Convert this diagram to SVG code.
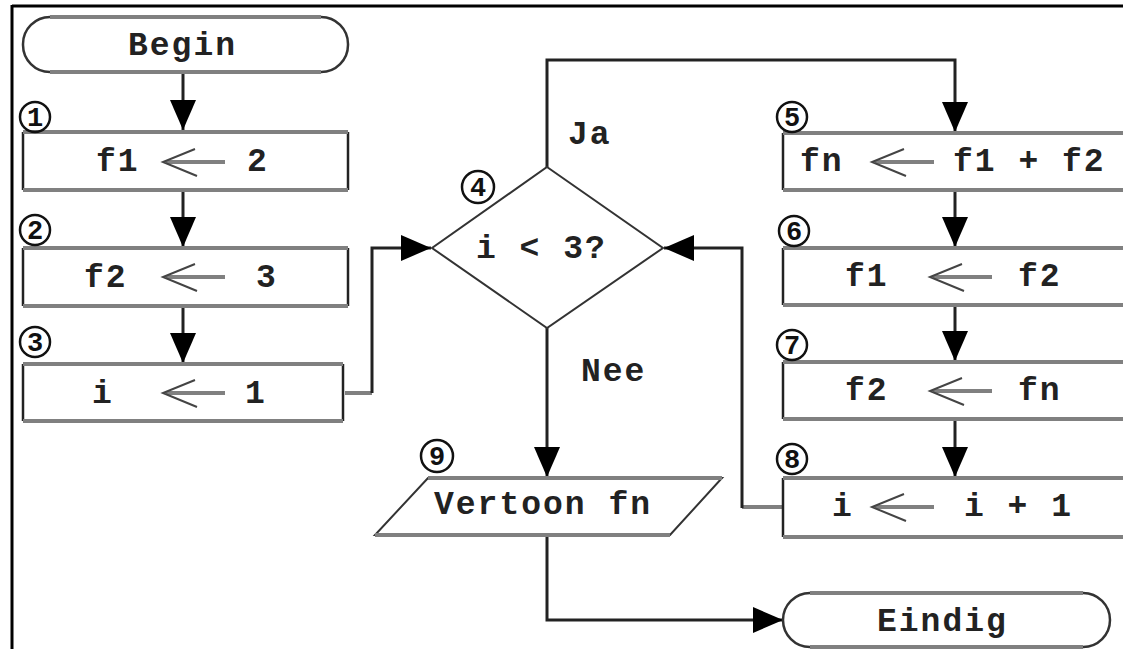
<svg xmlns="http://www.w3.org/2000/svg" width="1123" height="649" viewBox="0 0 1123 649">
<style>
.t{font-family:"Liberation Mono","Courier New",monospace;font-size:33px;font-weight:bold;fill:#222;letter-spacing:2px}
.n{font-family:"Liberation Mono","Courier New",monospace;font-size:27px;font-weight:bold;fill:#111;text-anchor:middle}
.c{fill:none;stroke:#111;stroke-width:2.5}
.side{stroke:#222;stroke-width:2.5;fill:none}
.tb{stroke:#808080;stroke-width:4;fill:none}
.box{fill:#fff;stroke:none}
.con{fill:none;stroke:#222;stroke-width:3}
.cong{fill:none;stroke:#808080;stroke-width:4}
.shaft{stroke:#808080;stroke-width:4}
.barb{stroke:#444;stroke-width:2;fill:none}
</style>
<defs>
<marker id="ah" markerUnits="userSpaceOnUse" markerWidth="32" markerHeight="26" refX="30" refY="13" orient="auto">
<path d="M0,0 L30,13 L0,26 z" fill="#000"/>
</marker>
<g id="larr">
<line class="shaft" x1="3" y1="0" x2="62" y2="0"/>
<path class="barb" d="M32,-13 L0,0 L34,14"/>
</g>
</defs>
<rect width="1123" height="649" fill="#fff"/>
<g id="frame">
<line x1="12" y1="6" x2="1123" y2="6" stroke="#000" stroke-width="3"/>
<line x1="12" y1="5" x2="12" y2="649" stroke="#000" stroke-width="3"/>
</g>
<g id="connectors">
<line class="con" x1="183" y1="72" x2="183" y2="130" marker-end="url(#ah)"/>
<line class="con" x1="183" y1="190" x2="183" y2="247" marker-end="url(#ah)"/>
<line class="con" x1="183" y1="306" x2="183" y2="363" marker-end="url(#ah)"/>
<path class="cong" d="M345,393 L372,393"/>
<path class="con" d="M372,393 L372,248 L431,248" marker-end="url(#ah)"/>
<path class="con" d="M547,167 L547,60 L955,60 L955,132" marker-end="url(#ah)"/>
<line class="con" x1="955" y1="190" x2="955" y2="247" marker-end="url(#ah)"/>
<line class="con" x1="955" y1="305" x2="955" y2="361" marker-end="url(#ah)"/>
<line class="con" x1="955" y1="419" x2="955" y2="477" marker-end="url(#ah)"/>
<path class="cong" d="M783,507 L742,507"/>
<path class="con" d="M742,508 L742,248 L664,248" marker-end="url(#ah)"/>
<line class="con" x1="547" y1="328" x2="547" y2="477" marker-end="url(#ah)"/>
<path class="con" d="M547,535 L547,620 L783,620" marker-end="url(#ah)"/>
<text class="t" x="568" y="144">Ja</text>
<text class="t" x="581" y="381">Nee</text>
</g>
<g id="begin">
<rect x="23" y="17" width="325" height="55" rx="27" fill="#fff" stroke="#333" stroke-width="2.5"/>
<line class="tb" x1="50" y1="17" x2="321" y2="17" stroke-width="3"/>
<line class="tb" x1="50" y1="72" x2="321" y2="72" stroke-width="3"/>
<text class="t" x="128" y="55">Begin</text>
</g>
<g id="n1">
<rect class="box" x="23" y="132" width="325" height="58"/>
<line class="side" x1="23" y1="132" x2="23" y2="190"/><line class="side" x1="348" y1="132" x2="348" y2="190"/>
<line class="tb" x1="23" y1="132" x2="348" y2="132"/><line class="tb" x1="23" y1="190" x2="348" y2="190"/>
<text class="t" x="96" y="171">f1</text>
<use href="#larr" x="163" y="162"/>
<text class="t" x="247" y="171">2</text>
<circle class="c" cx="35" cy="117" r="15"/><text class="n" x="35" y="126">1</text>
</g>
<g id="n2">
<rect class="box" x="23" y="248" width="325" height="58"/>
<line class="side" x1="23" y1="248" x2="23" y2="306"/><line class="side" x1="348" y1="248" x2="348" y2="306"/>
<line class="tb" x1="23" y1="248" x2="348" y2="248"/><line class="tb" x1="23" y1="306" x2="348" y2="306"/>
<text class="t" x="84" y="287">f2</text>
<use href="#larr" x="163" y="277"/>
<text class="t" x="256" y="287">3</text>
<circle class="c" cx="35" cy="230" r="15"/><text class="n" x="35" y="239">2</text>
</g>
<g id="n3">
<rect class="box" x="23" y="364" width="320" height="57"/>
<line class="side" x1="23" y1="364" x2="23" y2="421"/><line class="side" x1="343" y1="364" x2="343" y2="421"/>
<line class="tb" x1="23" y1="364" x2="343" y2="364"/><line class="tb" x1="23" y1="421" x2="343" y2="421"/>
<text class="t" x="92" y="403">i</text>
<use href="#larr" x="163" y="393"/>
<text class="t" x="245" y="403">1</text>
<circle class="c" cx="35" cy="342" r="15"/><text class="n" x="35" y="351">3</text>
</g>
<g id="n4">
<path d="M547,167 L663,248 L547,328 L432,248 z" fill="#fff" stroke="#333" stroke-width="2"/>
<text class="t" x="476" y="258">i &lt; 3?</text>
<circle class="c" cx="478" cy="187" r="16"/><text class="n" x="478" y="196">4</text>
</g>
<g id="n5">
<rect class="box" x="783" y="133" width="350" height="57"/>
<line class="side" x1="783" y1="133" x2="783" y2="190"/>
<line class="tb" x1="783" y1="133" x2="1123" y2="133"/><line class="tb" x1="783" y1="190" x2="1123" y2="190"/>
<text class="t" x="800" y="171">fn</text>
<use href="#larr" x="872" y="162"/>
<text class="t" x="953" y="171">f1 + f2</text>
<circle class="c" cx="792" cy="117" r="15"/><text class="n" x="792" y="126">5</text>
</g>
<g id="n6">
<rect class="box" x="783" y="248" width="350" height="57"/>
<line class="side" x1="783" y1="248" x2="783" y2="305"/>
<line class="tb" x1="783" y1="248" x2="1123" y2="248"/><line class="tb" x1="783" y1="305" x2="1123" y2="305"/>
<text class="t" x="845" y="286">f1</text>
<use href="#larr" x="930" y="277"/>
<text class="t" x="1018" y="286">f2</text>
<circle class="c" cx="794" cy="231" r="15"/><text class="n" x="794" y="240">6</text>
</g>
<g id="n7">
<rect class="box" x="783" y="362" width="350" height="57"/>
<line class="side" x1="783" y1="362" x2="783" y2="419"/>
<line class="tb" x1="783" y1="362" x2="1123" y2="362"/><line class="tb" x1="783" y1="419" x2="1123" y2="419"/>
<text class="t" x="845" y="400">f2</text>
<use href="#larr" x="930" y="391"/>
<text class="t" x="1018" y="400">fn</text>
<circle class="c" cx="792" cy="345" r="15"/><text class="n" x="792" y="354">7</text>
</g>
<g id="n8">
<rect class="box" x="783" y="478" width="350" height="59"/>
<line class="side" x1="783" y1="478" x2="783" y2="537"/>
<line class="tb" x1="783" y1="478" x2="1123" y2="478"/><line class="tb" x1="783" y1="537" x2="1123" y2="537"/>
<text class="t" x="832" y="516">i</text>
<use href="#larr" x="872" y="507"/>
<text class="t" x="964" y="516">i + 1</text>
<circle class="c" cx="792" cy="459" r="15"/><text class="n" x="792" y="468">8</text>
</g>
<g id="n9">
<path d="M428,478 L722,478 L670,535 L375,535 z" fill="#fff" stroke="#333" stroke-width="2"/>
<line class="tb" x1="428" y1="478" x2="722" y2="478"/><line class="tb" x1="375" y1="535" x2="670" y2="535"/>
<text class="t" x="434" y="514">Vertoon fn</text>
<circle class="c" cx="437" cy="456" r="16"/><text class="n" x="437" y="465">9</text>
</g>
<g id="eindig">
<rect x="783" y="593" width="327" height="54" rx="27" fill="#fff" stroke="#333" stroke-width="2.5"/>
<line class="tb" x1="810" y1="593" x2="1083" y2="593" stroke-width="3"/>
<line class="tb" x1="810" y1="647" x2="1083" y2="647" stroke-width="3"/>
<text class="t" x="877" y="631">Eindig</text>
</g>
</svg>
